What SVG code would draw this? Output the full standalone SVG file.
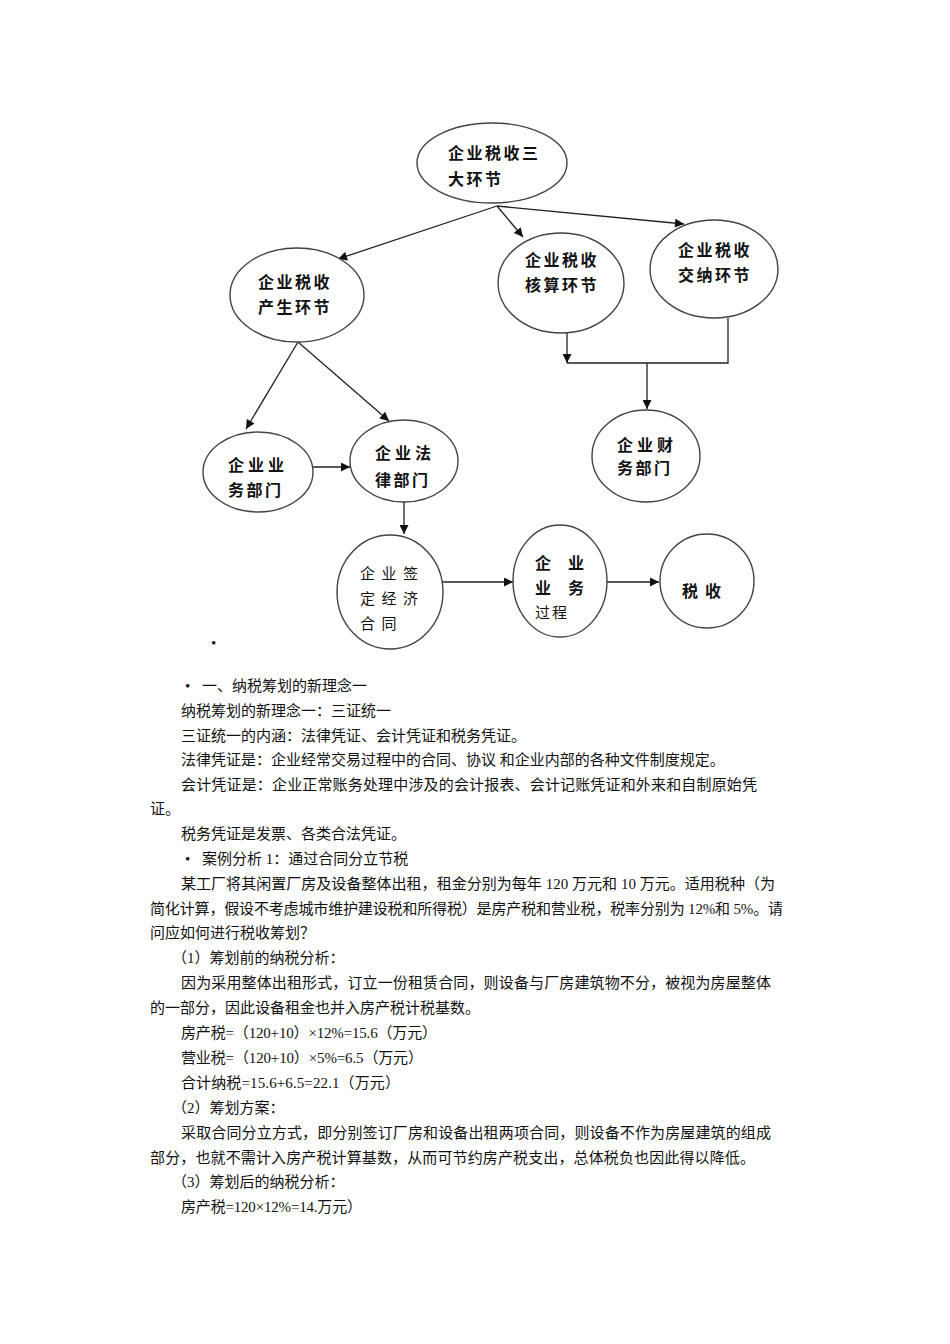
<svg xmlns="http://www.w3.org/2000/svg" width="950" height="1344" viewBox="0 0 950 1344">
<style>
.node ellipse{fill:#fff;stroke:#444;stroke-width:1.4}
.lb{font-family:"Liberation Sans","Noto Sans CJK SC",sans-serif;font-size:16px;font-weight:bold;fill:#111;letter-spacing:2.5px}
.ln{font-family:"Liberation Sans","Noto Sans CJK SC",sans-serif;font-size:15px;fill:#111}
.conn line,.conn polyline{stroke:#222;stroke-width:1.3;fill:none}
.t{font-family:"Liberation Serif","Noto Sans CJK SC",serif;font-size:15px;fill:#111}
</style>
<defs>
<marker id="ah" viewBox="0 0 10 10" refX="10" refY="5" markerWidth="10" markerHeight="9" markerUnits="userSpaceOnUse" orient="auto">
<path d="M0,0 L10,5 L0,10 z" fill="#111"/>
</marker>
</defs>
<rect width="950" height="1344" fill="#fff"/>
<g class="conn">
<line x1="497" y1="206" x2="338" y2="259" marker-end="url(#ah)"/>
<line x1="497" y1="206" x2="523" y2="237" marker-end="url(#ah)"/>
<line x1="497" y1="206" x2="684" y2="224" marker-end="url(#ah)"/>
<line x1="298" y1="342" x2="246" y2="429" marker-end="url(#ah)"/>
<line x1="298" y1="342" x2="389" y2="421" marker-end="url(#ah)"/>
<line x1="312" y1="467" x2="350" y2="467" marker-end="url(#ah)"/>
<line x1="404" y1="502" x2="404" y2="534" marker-end="url(#ah)"/>
<line x1="442" y1="582" x2="513" y2="582" marker-end="url(#ah)"/>
<line x1="607" y1="582" x2="659" y2="582" marker-end="url(#ah)"/>
<line x1="567" y1="332" x2="567" y2="363" marker-end="url(#ah)"/>
<polyline points="567,363 728,363 728,318"/>
<line x1="647" y1="363" x2="647" y2="409" marker-end="url(#ah)"/>
</g>
<g id="n-top" class="node"><ellipse cx="492" cy="163" rx="75" ry="40"/><text class="lb" x="448" y="159">企业税收三</text><text class="lb" x="448" y="185">大环节</text></g>
<g id="n-produce" class="node"><ellipse cx="297" cy="295" rx="67" ry="47"/><text class="lb" x="258" y="288">企业税收</text><text class="lb" x="258" y="313">产生环节</text></g>
<g id="n-account" class="node"><ellipse cx="561" cy="283" rx="63" ry="50"/><text class="lb" x="525" y="266">企业税收</text><text class="lb" x="525" y="291">核算环节</text></g>
<g id="n-pay" class="node"><ellipse cx="714" cy="269" rx="64" ry="49"/><text class="lb" x="678" y="256">企业税收</text><text class="lb" x="678" y="281">交纳环节</text></g>
<g id="n-finance" class="node"><ellipse cx="646" cy="456" rx="54" ry="46"/><text class="lb" x="617" y="451" style="letter-spacing:4px">企业财</text><text class="lb" x="617" y="474">务部门</text></g>
<g id="n-business" class="node"><ellipse cx="258" cy="472" rx="55" ry="40"/><text class="lb" x="228" y="471" style="letter-spacing:4px">企业业</text><text class="lb" x="228" y="496">务部门</text></g>
<g id="n-legal" class="node"><ellipse cx="404" cy="461" rx="54" ry="41"/><text class="lb" x="375" y="459" style="letter-spacing:4px">企业法</text><text class="lb" x="375" y="486">律部门</text></g>
<g id="n-contract" class="node"><ellipse cx="390" cy="592" rx="53" ry="57"/><text class="ln" x="360" y="579" style="letter-spacing:6.5px">企业签</text><text class="ln" x="360" y="604" style="letter-spacing:6.5px">定经济</text><text class="ln" x="360" y="629" style="letter-spacing:6.5px">合同</text></g>
<g id="n-process" class="node"><ellipse cx="560" cy="581" rx="47" ry="56"/><text class="lb" x="535" y="569" style="letter-spacing:17px">企业</text><text class="lb" x="535" y="594" style="letter-spacing:17px">业务</text><text class="ln" x="535" y="618" style="letter-spacing:2px">过程</text></g>
<g id="n-tax" class="node"><ellipse cx="707" cy="581" rx="47" ry="47"/><text class="lb" x="682" y="597" style="letter-spacing:7px">税收</text></g>
<text class="t" x="211" y="648">•</text>
<g id="body">
<text class="t" x="185" y="691">•</text>
<text class="t" x="202" y="691">一、纳税筹划的新理念一</text>
<text class="t" x="181" y="716">纳税筹划的新理念一：三证统一</text>
<text class="t" x="181" y="741">三证统一的内涵：法律凭证、会计凭证和税务凭证。</text>
<text class="t" x="181" y="765">法律凭证是：企业经常交易过程中的合同、协议 和企业内部的各种文件制度规定。</text>
<text class="t" x="181" y="790" textLength="576" lengthAdjust="spacing">会计凭证是：企业正常账务处理中涉及的会计报表、会计记账凭证和外来和自制原始凭</text>
<text class="t" x="150" y="814">证。</text>
<text class="t" x="181" y="839">税务凭证是发票、各类合法凭证。</text>
<text class="t" x="185" y="864">•</text>
<text class="t" x="202" y="864">案例分析 1：通过合同分立节税</text>
<text class="t" x="181" y="889" textLength="594" lengthAdjust="spacing">某工厂将其闲置厂房及设备整体出租，租金分别为每年 120 万元和 10 万元。适用税种（为</text>
<text class="t" x="150" y="914" textLength="633" lengthAdjust="spacing">简化计算，假设不考虑城市维护建设税和所得税）是房产税和营业税，税率分别为 12%和 5%。请</text>
<text class="t" x="150" y="938">问应如何进行税收筹划？</text>
<text class="t" x="172" y="963">（1）筹划前的纳税分析：</text>
<text class="t" x="181" y="988" textLength="590" lengthAdjust="spacing">因为采用整体出租形式，订立一份租赁合同，则设备与厂房建筑物不分，被视为房屋整体</text>
<text class="t" x="150" y="1013">的一部分，因此设备租金也并入房产税计税基数。</text>
<text class="t" x="181" y="1038" textLength="256" lengthAdjust="spacing">房产税=（120+10）×12%=15.6（万元）</text>
<text class="t" x="181" y="1063" textLength="242" lengthAdjust="spacing">营业税=（120+10）×5%=6.5（万元）</text>
<text class="t" x="181" y="1088" textLength="219" lengthAdjust="spacing">合计纳税=15.6+6.5=22.1（万元）</text>
<text class="t" x="172" y="1113">（2）筹划方案：</text>
<text class="t" x="181" y="1138" textLength="590" lengthAdjust="spacing">采取合同分立方式，即分别签订厂房和设备出租两项合同，则设备不作为房屋建筑的组成</text>
<text class="t" x="150" y="1163" textLength="605" lengthAdjust="spacing">部分，也就不需计入房产税计算基数，从而可节约房产税支出，总体税负也因此得以降低。</text>
<text class="t" x="172" y="1187">（3）筹划后的纳税分析：</text>
<text class="t" x="181" y="1212" textLength="181" lengthAdjust="spacing">房产税=120×12%=14.万元）</text>
</g>
</svg>
